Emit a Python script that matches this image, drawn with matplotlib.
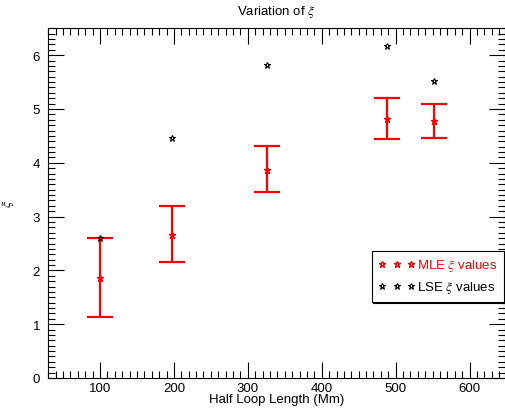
import numpy as np
import matplotlib
matplotlib.use("Agg")
import matplotlib.pyplot as plt
from matplotlib.lines import Line2D
from matplotlib.ticker import MultipleLocator

plt.rcParams['font.family'] = ['Liberation Sans', 'DejaVu Sans']
plt.rcParams['mathtext.fontset'] = 'stix'

# Half loop lengths (Mm)
length = [100, 197, 326, 488, 552]

# MLE xi values with lower / upper bounds
mle_xi = [1.85, 2.66, 3.87, 4.82, 4.77]
mle_lo = [1.13, 2.16, 3.46, 4.45, 4.46]
mle_hi = [2.60, 3.19, 4.32, 5.21, 5.10]

# LSE xi values
lse_xi = [2.60, 4.47, 5.81, 6.17, 5.52]

mle_xi = np.array(mle_xi)
yerr = [mle_xi - np.array(mle_lo), np.array(mle_hi) - mle_xi]

fig = plt.figure(figsize=(5.06, 4.10), dpi=100)
ax = fig.add_axes([48.3 / 506, 31 / 410, (505 - 48.3) / 506, (379 - 29.3) / 410])

ax.errorbar(length, mle_xi, yerr=yerr, fmt='none', ecolor='red',
            elinewidth=1.6, capsize=9.4, capthick=1.6)
ax.plot(length, mle_xi, linestyle='none', marker='*', markersize=5,
        color='red', markerfacecolor='none', markeredgewidth=1.0)
ax.plot(length, lse_xi, linestyle='none', marker='*', markersize=5,
        color='black', markerfacecolor='none', markeredgewidth=0.8)

ax.set_xlim(30, 648)
ax.set_ylim(0, 6.5)
ax.xaxis.set_major_locator(MultipleLocator(100))
ax.xaxis.set_minor_locator(MultipleLocator(10))
ax.yaxis.set_major_locator(MultipleLocator(1))
ax.yaxis.set_minor_locator(MultipleLocator(0.1))
ax.tick_params(which='both', direction='in', top=True, right=True,
               width=0.8, labelsize=9.5)
ax.tick_params(axis='x', pad=3)
ax.tick_params(axis='y', pad=6)
ax.tick_params(which='major', length=11.5)
ax.tick_params(which='minor', length=5.3)
for s in ax.spines.values():
    s.set_linewidth(0.8)

ax.set_xlabel('Half Loop Length (Mm)', fontsize=9.5, labelpad=-1)
ax.set_ylabel(r'$\xi$', fontsize=10, labelpad=12)
ax.set_title(r'Variation of $\xi$', fontsize=9.5, pad=10)

handles = [Line2D([], [], linestyle='none', marker='*', markersize=5,
                  color='red', markerfacecolor='none', markeredgewidth=1.0),
           Line2D([], [], linestyle='none', marker='*', markersize=5,
                  color='black', markerfacecolor='none', markeredgewidth=0.8)]
leg = fig.legend(handles, [r'MLE $\xi$ values', r'LSE $\xi$ values'],
                 loc='upper left', bbox_to_anchor=(371.7 / 506, 1 - 251.7 / 410),
                 bbox_transform=fig.transFigure, numpoints=3, fontsize=9.5,
                 handlelength=2.8, handletextpad=0.15, borderpad=0.5,
                 borderaxespad=0, labelspacing=0.45, fancybox=False,
                 edgecolor='black', framealpha=1,
                 shadow={'color': 'black', 'alpha': 1, 'ox': 1.2, 'oy': -1.2})
leg.get_frame().set_linewidth(0.8)
leg.get_texts()[0].set_color('red')

fig.savefig('out.png', dpi=100)
